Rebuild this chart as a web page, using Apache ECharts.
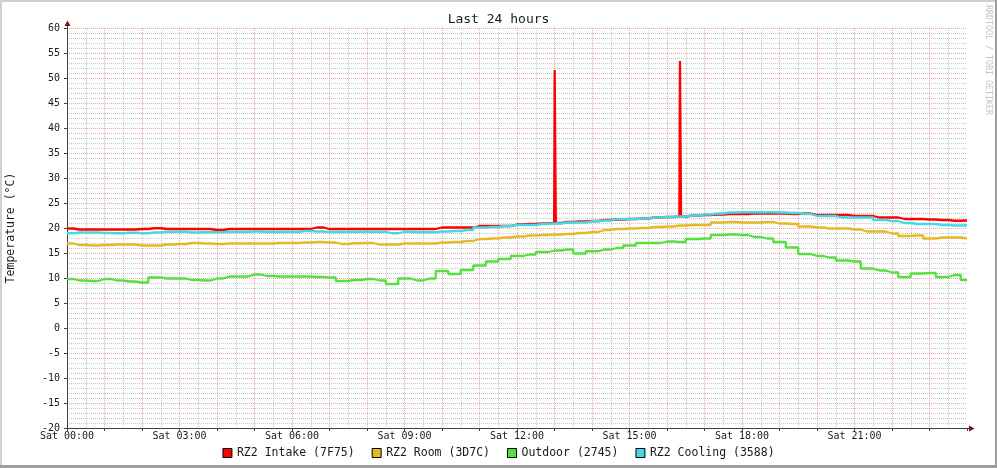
<!DOCTYPE html>
<html><head><meta charset="utf-8">
<script src="https://cdn.jsdelivr.net/npm/echarts@6/dist/echarts.min.js"></script>
<style>html,body{margin:0;padding:0;background:#fff;}#c{width:997px;height:468px;}</style>
</head><body><div id="c"></div>
<script>
// sample spacing: 20 minutes, starting Sat 00:00
const stepHours = 1 / 3;
const intake = [
  19.9, 19.7, 19.7, 19.7, 19.7, 19.7, 19.8, 19.95, 19.8, 19.8,
  19.8, 19.8, 19.6, 19.8, 19.8, 19.8, 19.8, 19.8, 19.8, 19.8,
  20.1, 19.8, 19.8, 19.8, 19.8, 19.8, 19.8, 19.8, 19.8, 19.8,
  20.1, 20.1, 20.1, 20.4, 20.4, 20.4, 20.7, 20.8, 20.9, 21.0,
  21.2, 21.3, 21.4, 21.6, 21.7, 21.8, 21.9, 22.1, 22.2, 22.3,
  22.5, 22.6, 22.7, 22.8, 22.8, 22.9, 22.9, 22.9, 22.8, 22.9,
  22.6, 22.6, 22.6, 22.4, 22.4, 22.1, 22.1, 21.8, 21.8, 21.7,
  21.6, 21.45, 21.5
];
const intakeSpikes = [[13.02, 51.6], [16.36, 53.4]];
const room = [
  16.9, 16.6, 16.5, 16.6, 16.7, 16.7, 16.5, 16.5, 16.7, 16.8,
  17.0, 16.9, 16.8, 16.9, 16.9, 16.9, 16.9, 17.0, 17.0, 17.1,
  17.2, 17.1, 16.8, 16.95, 17.0, 16.7, 16.7, 16.9, 16.9, 16.9,
  17.1, 17.2, 17.4, 17.8, 17.9, 18.1, 18.3, 18.5, 18.6, 18.7,
  18.8, 19.0, 19.2, 19.6, 19.8, 19.9, 20.0, 20.2, 20.3, 20.5,
  20.6, 20.6, 21.1, 21.2, 21.1, 21.1, 21.2, 20.9, 20.8, 20.3,
  20.1, 19.9, 19.9, 19.7, 19.3, 19.3, 18.9, 18.4, 18.5, 17.9,
  18.1, 18.1, 17.9
];
const outdoor = [
  9.8, 9.5, 9.4, 9.8, 9.5, 9.3, 9.1, 10.1, 9.9, 9.9,
  9.6, 9.5, 9.9, 10.3, 10.3, 10.7, 10.4, 10.3, 10.3, 10.3,
  10.2, 10.1, 9.4, 9.6, 9.8, 9.5, 8.8, 9.9, 9.5, 9.9,
  11.4, 10.8, 11.6, 12.5, 13.3, 13.8, 14.4, 14.7, 15.2, 15.5,
  15.7, 14.9, 15.35, 15.7, 16.0, 16.5, 17.0, 17.0, 17.3, 17.2,
  17.8, 17.9, 18.6, 18.7, 18.6, 18.2, 17.9, 17.2, 16.1, 14.8,
  14.4, 14.1, 13.5, 13.3, 11.9, 11.5, 11.1, 10.2, 10.9, 11.0,
  10.2, 10.6, 9.6
];
const cooling = [
  18.95, 19.1, 19.1, 19.0, 18.95, 19.05, 18.95, 19.1, 19.25, 19.25,
  19.1, 19.15, 19.15, 19.2, 19.2, 19.3, 19.2, 19.2, 19.2, 19.4,
  19.3, 19.2, 19.2, 19.25, 19.25, 19.25, 18.95, 19.25, 19.15, 19.15,
  19.3, 19.4, 19.6, 20.1, 20.2, 20.4, 20.6, 20.6, 20.8, 20.9,
  21.1, 21.1, 21.35, 21.5, 21.8, 21.8, 21.9, 22.1, 22.2, 22.3,
  22.5, 22.7, 22.9, 23.1, 23.15, 23.15, 23.15, 23.1, 23.0, 22.8,
  22.4, 22.4, 22.1, 22.1, 22.1, 21.6, 21.4, 21.0, 20.8, 20.8,
  20.6, 20.5, 20.55
];
const xTickLabels = ['Sat 00:00', 'Sat 03:00', 'Sat 06:00', 'Sat 09:00', 'Sat 12:00', 'Sat 15:00', 'Sat 18:00', 'Sat 21:00'];
const seriesNames = ['RZ2 Intake (7F75)', 'RZ2 Room (3D7C)', 'Outdoor (2745)', 'RZ2 Cooling (3588)'];
const seriesColors = ['#ff0000', '#e6b822', '#55e040', '#44d8e4'];

(function () {
const FONT = 'DejaVu Sans Mono';
function toPairs(arr) { return arr.map((v, i) => [i * stepHours, v]); }
function withSpikes(pairs, spikes) {
  let out = pairs.slice();
  spikes.forEach(([t, v]) => {
    const nearest = out.reduce((a, b) => Math.abs(b[0] - t) < Math.abs(a[0] - t) ? b : a);
    const base = nearest[1];
    out = out.filter(p => Math.abs(p[0] - t) > 0.04);
    out.push([t - 0.03, base], [t, v], [t + 0.03, base]);
  });
  out.sort((a, b) => a[0] - b[0]);
  return out;
}
const seriesData = [withSpikes(toPairs(intake), intakeSpikes), toPairs(room), toPairs(outdoor), toPairs(cooling)];

const chart = echarts.init(document.getElementById('c'), null, {renderer: 'canvas'});
const axisColor = '#404040';
const textColor = '#1a1a1a';
const majorGrid = {color: 'rgba(224,80,80,0.5)', type: [1, 1], width: 1};
const minorGrid = {color: 'rgba(143,143,143,0.5)', type: [1, 1], width: 1};

chart.setOption({
  animation: false,
  backgroundColor: '#ffffff',
  title: {
    text: 'Last 24 hours', left: 'center', top: 13, padding: 0,
    textStyle: {fontFamily: FONT, fontSize: 13, fontWeight: 'normal', color: textColor}
  },
  legend: {
    data: seriesNames, left: 'center', top: 446, icon: 'rect',
    itemWidth: 9, itemHeight: 9, itemGap: 17, padding: 0,
    itemStyle: {borderColor: '#000', borderWidth: 1},
    textStyle: {fontFamily: FONT, fontSize: 11.5, color: textColor, lineHeight: 14}
  },
  grid: {left: 67, top: 28, width: 900, height: 400, containLabel: false, outerBoundsMode: 'none'},
  xAxis: {
    type: 'value', min: 0, max: 24, interval: 1,
    axisLine: {show: true, onZero: false, lineStyle: {color: axisColor, width: 1}},
    axisTick: {show: true, length: 3, lineStyle: {color: axisColor}},
    axisLabel: {
      margin: 3, fontFamily: FONT, fontSize: 10, color: textColor, showMaxLabel: true,
      formatter: v => (v % 3 === 0 && v < 24) ? xTickLabels[v / 3] : ''
    },
    splitLine: {show: true, showMaxLine: false, showMinLine: false, lineStyle: majorGrid},
    minorTick: {show: false, splitNumber: 2},
    minorSplitLine: {show: true, lineStyle: minorGrid}
  },
  yAxis: {
    type: 'value', min: -20, max: 60, interval: 5,
    name: 'Temperature (°C)', nameLocation: 'middle', nameGap: 50, nameRotate: 90,
    nameTextStyle: {fontFamily: FONT, fontSize: 11.5, color: textColor},
    axisLine: {show: true, onZero: false, lineStyle: {color: axisColor, width: 1}},
    axisTick: {show: true, length: 3, lineStyle: {color: axisColor}},
    axisLabel: {margin: 7, fontFamily: FONT, fontSize: 10, color: textColor},
    splitLine: {show: true, showMinLine: false, lineStyle: majorGrid},
    minorTick: {show: false, splitNumber: 5},
    minorSplitLine: {show: true, lineStyle: minorGrid}
  },
  series: seriesData.map((d, k) => ({
    name: seriesNames[k], type: 'line', data: d, step: 'middle',
    symbol: 'none', showSymbol: false, silent: true,
    color: seriesColors[k], itemStyle: {color: seriesColors[k]},
    lineStyle: {color: seriesColors[k], width: 2.3}, z: 3 + k
  }))
});

// decorations: axis arrows, frame shading, watermark
const pO = chart.convertToPixel({gridIndex: 0}, [0, -20]);
const pTop = chart.convertToPixel({gridIndex: 0}, [0, 60]);
const pRight = chart.convertToPixel({gridIndex: 0}, [24, -20]);
const ax = Math.round(pO[0]) + 0.5, ay = Math.round(pO[1]) + 0.5;
const arrowColor = '#801010';
chart.setOption({
  graphic: [
    {type: 'line', shape: {x1: ax, y1: pTop[1], x2: ax, y2: pTop[1] - 3}, style: {stroke: axisColor, lineWidth: 1}, z: 100},
    {type: 'polygon', shape: {points: [[ax - 3, pTop[1] - 2], [ax + 3, pTop[1] - 2], [ax, pTop[1] - 7.5]]}, style: {fill: arrowColor}, z: 101},
    {type: 'line', shape: {x1: pRight[0], y1: ay, x2: pRight[0] + 3, y2: ay}, style: {stroke: axisColor, lineWidth: 1}, z: 100},
    {type: 'polygon', shape: {points: [[pRight[0] + 2, ay - 3], [pRight[0] + 2, ay + 3], [pRight[0] + 7.5, ay]]}, style: {fill: arrowColor}, z: 101},
    {type: 'rect', shape: {x: 0, y: 0, width: 997, height: 2}, style: {fill: '#cfcfcf'}, z: 110},
    {type: 'rect', shape: {x: 0, y: 0, width: 2, height: 468}, style: {fill: '#cfcfcf'}, z: 110},
    {type: 'rect', shape: {x: 995, y: 0, width: 2, height: 468}, style: {fill: '#9e9e9e'}, z: 111},
    {type: 'rect', shape: {x: 0, y: 465, width: 997, height: 3}, style: {fill: '#9e9e9e'}, z: 111},
    {type: 'text', x: 988, y: 5, rotation: -Math.PI / 2,
      style: {text: 'RRDTOOL / TOBI OETIKER', fontFamily: FONT, fontSize: 8.3, fill: '#c4c4c4', align: 'left', verticalAlign: 'middle'}, z: 100}
  ]
});
})();
</script>
</body></html>
